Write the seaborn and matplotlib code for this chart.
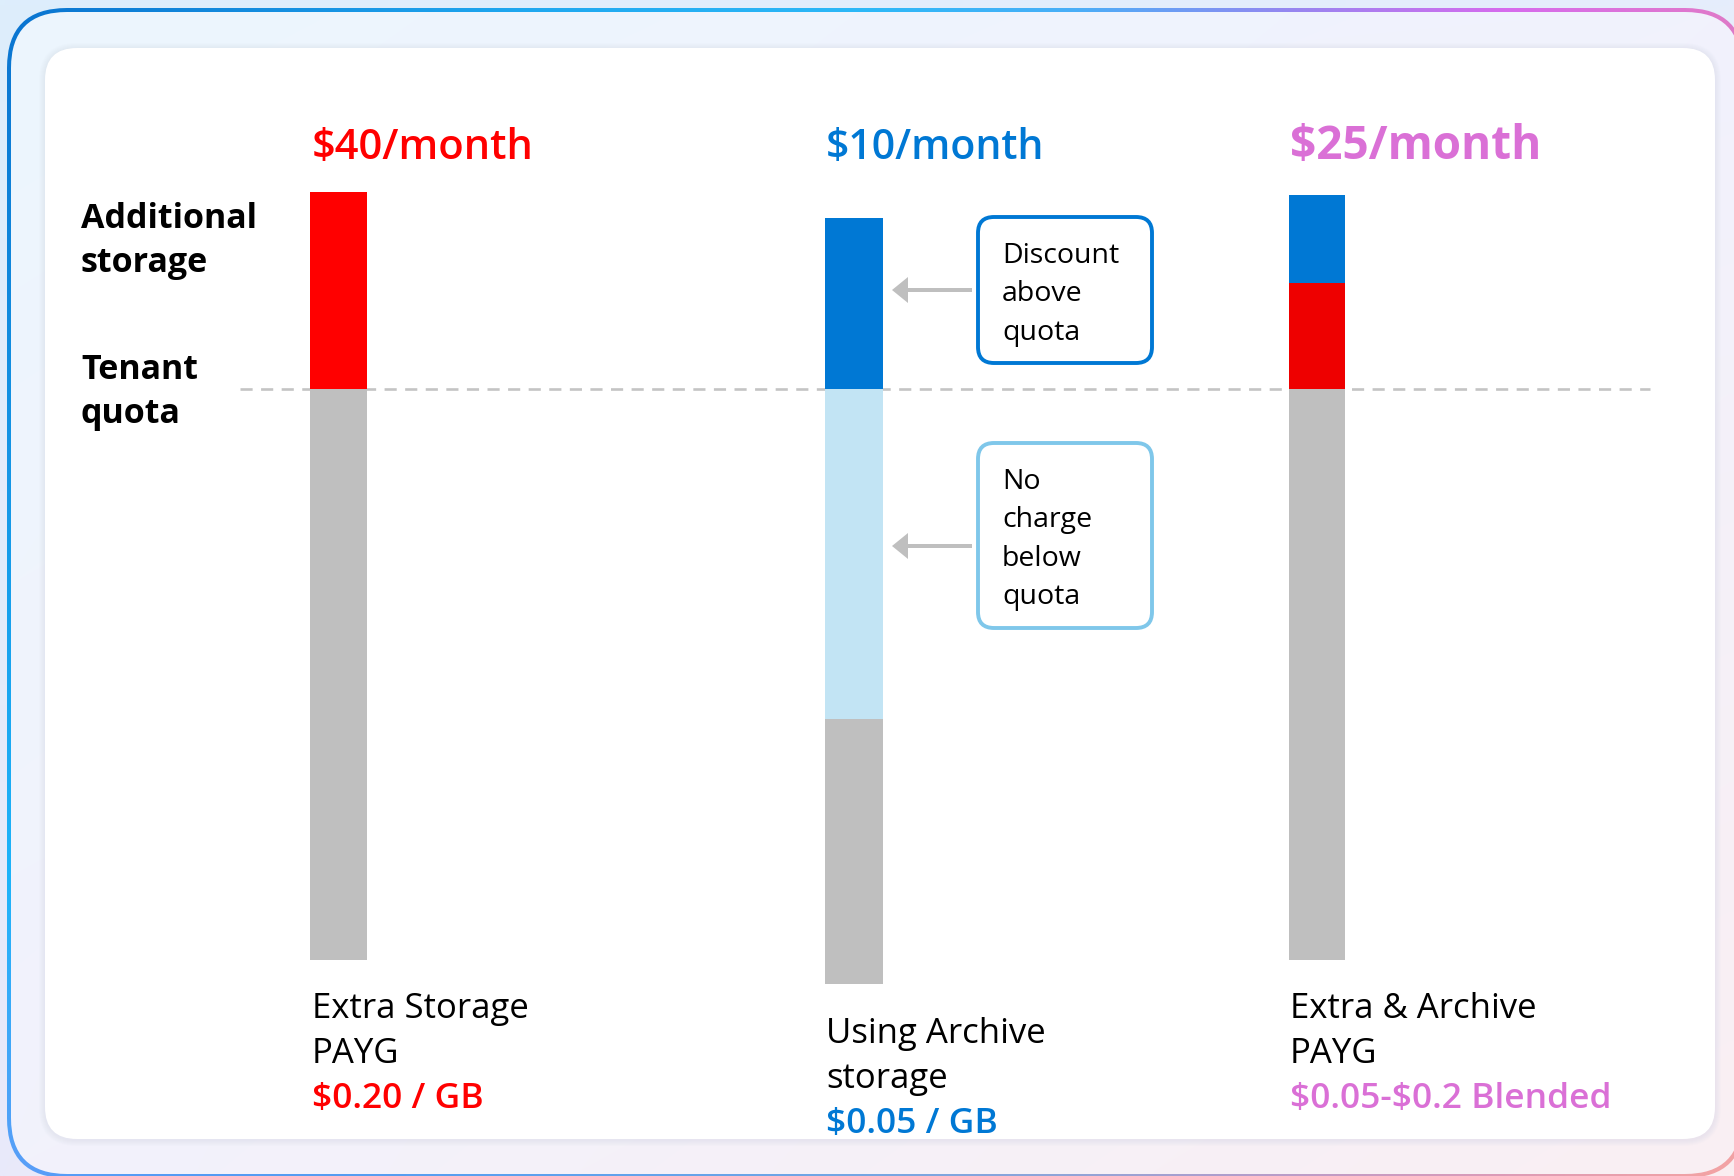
import numpy as np
import pandas as pd
import matplotlib
matplotlib.use("Agg")
import matplotlib.pyplot as plt
from matplotlib.colors import to_rgb
from matplotlib.patches import FancyBboxPatch, FancyArrow
import seaborn as sns

# --- data ---
plans = ["Extra Storage PAYG", "Using Archive storage", "Extra & Archive PAYG"]
plan_line1 = ["Extra Storage", "Using Archive", "Extra & Archive"]
plan_line2 = ["PAYG", "storage", "PAYG"]
unit_price = ["$0.20 / GB", "$0.05 / GB", "$0.05-$0.2 Blended"]
monthly_cost = ["$40/month", "$10/month", "$25/month"]

quota = 100
bar_start = [0, -4.2, 0]
used_in_quota = [100, 46.4, 100]     # grey
free_in_quota = [0, 57.8, 0]         # light blue
payg_above = [34.5, 0, 18.6]         # red
discount_above = [0, 29.9, 15.4]     # blue

callouts = [["Discount", "above", "quota"], ["No", "charge", "below", "quota"]]
side_labels = [["Additional", "storage"], ["Tenant", "quota"]]

# --- styles ---
GREY, LIGHT, BLUE, PINK = "#BFBFBF", "#C2E4F4", "#0078D4", "#DA70D6"
payg_colors = ["#FF0000", "#FF0000", "#EE0000"]
accent = ["#FF0000", BLUE, PINK]

W, H = 1734, 1176
sns.set_theme(style="white")
plt.rcParams["font.family"] = ["Open Sans", "DejaVu Sans"]

fig = plt.figure(figsize=(W / 100, H / 100), dpi=100)
bg = fig.add_axes([0, 0, 1, 1], zorder=0)
bg.set_xlim(0, W)
bg.set_ylim(H, 0)
bg.axis("off")


def grad(stops, n):
    t = np.linspace(0, 1, n)
    pos = [s[0] for s in stops]
    cols = np.array([to_rgb(s[1]) for s in stops])
    return np.stack([np.interp(t, pos, cols[:, k]) for k in range(3)], axis=-1)


def corner_image(tl, tr, bl, br, ny=120, nx=180):
    u = np.linspace(0, 1, nx)[None, :, None]
    v = np.linspace(0, 1, ny)[:, None, None]
    tl, tr, bl, br = [np.array(to_rgb(c)) for c in (tl, tr, bl, br)]
    return (1 - v) * ((1 - u) * tl + u * tr) + v * ((1 - u) * bl + u * br)


def rrect(x0, y0, x1, y1, r, **kw):
    return FancyBboxPatch((x0, y0), x1 - x0, y1 - y0,
                          boxstyle=f"round,pad=0,rounding_size={r}", **kw)


# page background
bg.imshow(corner_image("#DDEEFC", "#E6EDFC", "#E9E9FA", "#FBEEF0"),
          extent=(0, W, H, 0), aspect="auto", interpolation="bilinear", zorder=0)

# gradient border (image clipped to outer rounded rect, then interior on top)
ny, nx = 200, 300
top_row = grad([(0, "#0A74D0"), (0.3, "#1FA8F0"), (0.5, "#2DB9F8"), (0.62, "#4AAFF8"),
                (0.75, "#9A85F0"), (0.87, "#D86BEE"), (1.0, "#E27AC8")], nx)
left_col = grad([(0, "#0A74D0"), (0.75, "#1EB4FA"), (1.0, "#5A9EF8")], ny)
xx = np.linspace(0, 1, nx)[None, :]
yy = np.linspace(0, 1, ny)[:, None]
w = (xx / (xx + yy + 1e-6))[..., None]
border_img = w * top_row[None, :, :] + (1 - w) * left_col[:, None, :]
s = np.clip(xx * yy, 0, 1)[..., None] ** 2
border_img = (1 - s) * border_img + s * np.array(to_rgb("#F4A3A3"))
outer = rrect(7, 8, 1745, 1178, 60, fc="none", ec="none")
bg.add_patch(outer)
im = bg.imshow(border_img, extent=(0, W, H, 0), aspect="auto",
               interpolation="bilinear", zorder=1)
im.set_clip_path(outer)
inner = rrect(11, 12, 1741, 1174, 56, fc="none", ec="none")
bg.add_patch(inner)
im2 = bg.imshow(corner_image("#ECF6FE", "#F1F2FD", "#F2F2FC", "#FAEFF3"),
                extent=(0, W, H, 0), aspect="auto", interpolation="bilinear", zorder=2)
im2.set_clip_path(inner)

# white card with soft shadow
for k in range(6, 0, -1):
    bg.add_patch(rrect(45 - k, 48 - k + 1, 1715 + k, 1139 + k + 1, 32 + k,
                       fc="#B8C2D8", ec="none", alpha=0.035, zorder=3))
bg.add_patch(rrect(45, 48, 1715, 1139, 32, fc="white", ec="none", zorder=4))

# --- stacked bars, one small axes per plan ---
bar_left = [310, 825, 1289]
bar_width = [57, 58, 56]
ax_top, ax_bottom, base_px, px_per_unit = 150, 1000, 960, 5.71
ylo = -(ax_bottom - base_px) / px_per_unit
yhi = (base_px - ax_top) / px_per_unit

rows = []
for i, plan in enumerate(plans):
    bottom = bar_start[i]
    for seg, val, col in [("used", used_in_quota[i], GREY),
                          ("free", free_in_quota[i], LIGHT),
                          ("payg", payg_above[i], payg_colors[i]),
                          ("discount", discount_above[i], BLUE)]:
        rows.append(dict(plan=plan, segment=seg, value=val, bottom=bottom, color=col))
        bottom += val
stacked = pd.DataFrame(rows)

bar_axes = []
for i, plan in enumerate(plans):
    ax = fig.add_axes([bar_left[i] / W, 1 - ax_bottom / H, bar_width[i] / W,
                       (ax_bottom - ax_top) / H], zorder=2)
    for _, r in stacked[stacked["plan"] == plan].iterrows():
        if r["value"] <= 0:
            continue
        sns.barplot(x=[plan], y=[r["value"]], bottom=r["bottom"], color=r["color"],
                    saturation=1, width=1, linewidth=0, ax=ax)
    ax.set_xlim(-0.5, 0.5)
    ax.set_ylim(ylo, yhi)
    ax.axis("off")
    ax.patch.set_alpha(0)
    bar_axes.append(ax)

# tenant quota dashed line
qy = bg.transData.inverted().transform(bar_axes[0].transData.transform((0, quota)))[1]
bg.plot([240, 1650], [qy, qy], color="#C4C4C4", lw=1.9, dashes=(4.6, 3.2), zorder=5)

# --- texts ---
txt_x = [312, 826, 1290]
title_size = [30, 29.5, 33]
title_weight = ["semibold", "semibold", "bold"]
for i in range(3):
    bg.text(txt_x[i], 159, monthly_cost[i], color=accent[i], fontsize=title_size[i],
            fontweight=title_weight[i], va="baseline", ha="left", parse_math=False, zorder=6)
    y0 = 1043 if i == 1 else 1018
    bg.text(txt_x[i], y0, plan_line1[i], color="black", fontsize=25, va="baseline", zorder=6)
    bg.text(txt_x[i], y0 + 45, plan_line2[i], color="black", fontsize=25, va="baseline", zorder=6)
    bg.text(txt_x[i], y0 + 90, unit_price[i], color=accent[i], fontsize=25.5,
            fontweight="semibold", va="baseline", parse_math=False, zorder=6)

for lines, y0 in zip(side_labels, [228, 379]):
    for j, line in enumerate(lines):
        bg.text(81, y0 + 44 * j, line, fontsize=24.5, fontweight="bold",
                color="black", va="baseline", zorder=6)

# callout boxes with arrows pointing at the archive bar
box_edge = [BLUE, "#7FC7EA"]
box_y = [(217, 363), (443, 628)]
text_y0 = [263, 489]
arrow_y = [290, 546]
for k in range(2):
    bg.add_patch(rrect(978, box_y[k][0], 1152, box_y[k][1], 16, fc="white",
                       ec=box_edge[k], lw=2.8, zorder=6))
    for j, line in enumerate(callouts[k]):
        bg.text(1002, text_y0[k] + 38.3 * j, line, fontsize=20.5, color="black",
                va="baseline", zorder=7)
    bg.add_patch(FancyArrow(972, arrow_y[k], -80, 0, width=4, head_width=26,
                            head_length=16, length_includes_head=True,
                            fc="#BFBFBF", ec="none", zorder=6))

fig.savefig("out.png", dpi=100)
